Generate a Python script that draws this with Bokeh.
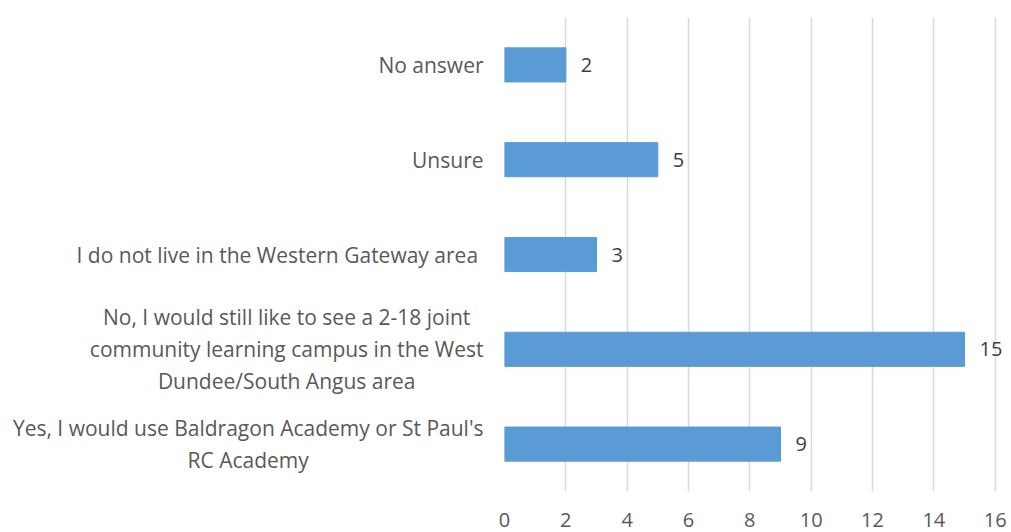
from bokeh.plotting import figure
from bokeh.layouts import row
from bokeh.models import Range1d, FixedTicker, ColumnDataSource
from bokeh.core.properties import value
from bokeh.embed import file_html
from bokeh.resources import INLINE

categories = [
    "No answer",
    "Unsure",
    "I do not live in the Western Gateway area ",
    "No, I would still like to see a 2-18 joint\ncommunity learning campus in the West\nDundee/South Angus area",
    "Yes, I would use Baldragon Academy or St Paul's\nRC Academy",
]
counts = [2, 5, 3, 15, 9]
x_ticks = [0, 2, 4, 6, 8, 10, 12, 14, 16]

n = len(categories)
ypos = [n - 1 - i for i in range(n)]
src = ColumnDataSource(dict(y=ypos, v=counts, cat=categories,
                            edge=[1] * n, lbl=[str(c) for c in counts]))

TOP, BOTTOM = 17, 41
H = 532

# left panel: category labels
lp = figure(width=490, height=H, output_backend="svg", toolbar_location=None,
            x_range=Range1d(0, 1), y_range=Range1d(-0.5, n - 0.5),
            min_border_left=0, min_border_right=0, min_border_top=TOP, min_border_bottom=BOTTOM)
lp.outline_line_color = None
lp.axis.visible = False
lp.grid.visible = False
lp.text(x="edge", y="y", text="cat", source=src, x_offset=-7,
        anchor="center_right", text_align="center", text_baseline="middle",
        text_font=value("Open Sans"), text_font_size="21px", text_color="#595959",
        text_line_height=1.15)

# right panel: bars
p = figure(width=520, height=H, output_backend="svg", toolbar_location=None,
           x_range=Range1d(0, 16.5), y_range=lp.y_range,
           min_border_left=14, min_border_right=0, min_border_top=TOP, min_border_bottom=BOTTOM)
p.outline_line_color = None

p.hbar(y="y", right="v", left=0, height=0.36, source=src, color="#5B9BD5")

p.text(x="v", y="y", text="lbl", source=src, x_offset=15,
       text_align="left", text_baseline="middle", text_font=value("Open Sans"),
       text_font_size="20px", text_color="#404040")

p.yaxis.visible = False
p.ygrid.visible = False
p.xgrid.ticker = FixedTicker(ticks=x_ticks)
p.xgrid.grid_line_color = "#d9d9d9"
p.xgrid.grid_line_width = 1.5
xa = p.xaxis[0]
xa.ticker = FixedTicker(ticks=x_ticks)
xa.axis_line_color = None
xa.major_tick_line_color = None
xa.minor_tick_line_color = None
xa.major_label_standoff = 15
xa.major_label_text_font = "Open Sans"
xa.major_label_text_font_size = "20px"
xa.major_label_text_color = "#595959"

layout = row(lp, p, spacing=0)
open("out.html", "w").write(file_html(layout, INLINE))
